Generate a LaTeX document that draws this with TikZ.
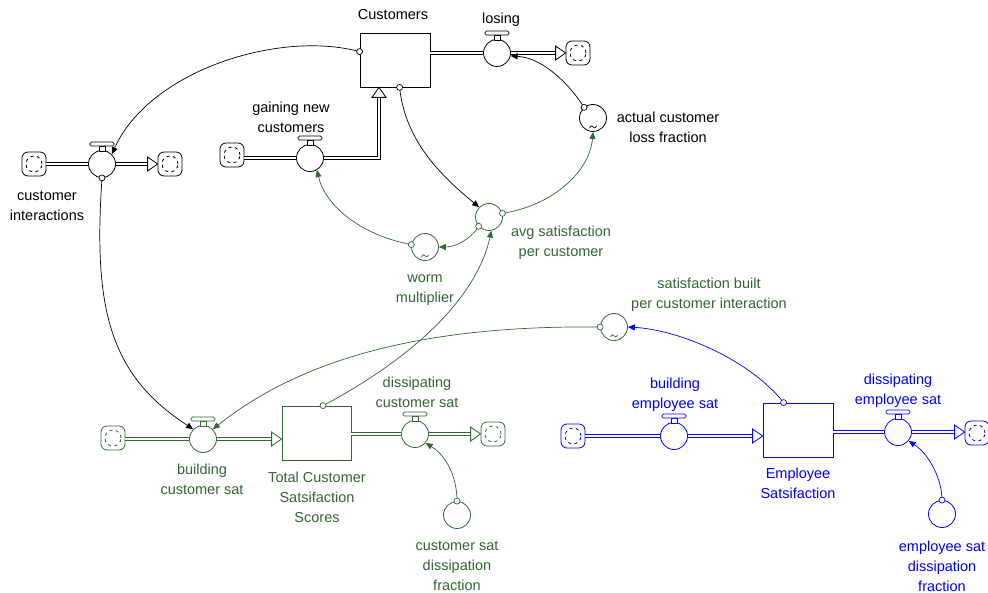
\documentclass[tikz,border=0pt]{standalone}
\usepackage{fontspec}
\setmainfont{Liberation Sans}
\usetikzlibrary{arrows.meta,calc}
\definecolor{vg}{RGB}{51,102,51}
\definecolor{vb}{RGB}{0,0,255}

% valve handle on top of a flow valve: #1 node, #2 colour
\newcommand\valvetop[2]{%
  \draw[#2,line width=0.8pt,fill=white] ($(#1.north)+(-3,1)$) rectangle ($(#1.north)+(3,-4)$);
  \draw[#2,line width=0.8pt,fill=white,rounded corners=1.5pt] ($(#1.north)+(-12,-4)$) rectangle ($(#1.north)+(12,-8)$);}
% dashed marks inside a cloud: #1 node, #2 colour
\newcommand\cloudmarks[2]{%
  \draw[#2,line width=0.8pt,dash pattern=on 3pt off 3.5pt] (#1) circle (8pt);}
% open arrowhead of a flow pipe pointing right, tip at #1
\newcommand\flowheadright[2]{%
  \draw[#2,line width=0.8pt,fill=white] (#1) -- ++(-10,-7) -- ++(0,14) -- cycle;}
% small circle at the tail of a connector
\newcommand\tailmark[2]{%
  \draw[#2,line width=0.7pt,fill=white] (#1) circle (3pt);}
% lookup tilde inside an auxiliary
\newcommand\lookupmark[2]{%
  \draw[#2,line width=0.7pt] ($(#1.south)+(-3.5,-4)$) .. controls ($(#1.south)+(-2,-7)$) and ($(#1.south)+(-1,-6)$) .. ($(#1.south)+(0,-5)$)
     .. controls ($(#1.south)+(1,-4)$) and ($(#1.south)+(2,-3)$) .. ($(#1.south)+(3.5,-6)$);}

\begin{document}
\begin{tikzpicture}[x=1pt,y=-1pt,
  aux/.style={circle,draw,fill=white,minimum size=27pt,inner sep=0pt,line width=0.8pt},
  stockbox/.style={rectangle,draw,fill=white,minimum width=70pt,minimum height=54pt,inner sep=0pt,line width=0.8pt},
  cloudbox/.style={rectangle,draw,fill=white,rounded corners=6pt,minimum size=24pt,inner sep=0pt,line width=0.8pt},
  pipe/.style={double=white,double distance=2pt,line width=0.8pt},
  conn/.style={line width=0.7pt,-{Triangle[length=7pt,width=6pt]}},
  lbl/.style={align=center,font=\fontsize{14.5}{20}\selectfont,inner sep=0pt},
  gcol/.style={draw=vg,text=vg},
  bcol/.style={draw=vb,text=vb},
]
\useasboundingbox (0,0) rectangle (988,593);
\fill[white] (0,0) rectangle (988,593);

% ---------------- customers sector ----------------
\node[stockbox] (C) at (395,60) {};
\node[lbl] (Clbl) at (393,15) {Customers};
\node[aux] (L) at (497,53) {};
\node[lbl] (Llbl) at (501,20) {losing};
\node[cloudbox] (Lsink) at (578,53) {};
\cloudmarks{Lsink}{black}
\draw[pipe] (C.east |- L) -- (L.west);
\draw[pipe] (L.east) -- ($(Lsink.west)+(-10,0)$);
\flowheadright{Lsink.west}{black}
\valvetop{L}{black}

\node[cloudbox] (CIsrc) at (34,164) {};
\cloudmarks{CIsrc}{black}
\node[aux] (CI) at (102,164) {};
\node[cloudbox] (CIsink) at (170,164) {};
\cloudmarks{CIsink}{black}
\node[lbl] (CIlbl) at (47,206) {customer\\interactions};
\draw[pipe] (CIsrc.east) -- (CI.west);
\draw[pipe] (CI.east) -- ($(CIsink.west)+(-10,0)$);
\flowheadright{CIsink.west}{black}
\valvetop{CI}{black}

\node[cloudbox] (Gsrc) at (232,155) {};
\cloudmarks{Gsrc}{black}
\node[aux] (G) at (310,158) {};
\node[lbl] (Glbl) at (291,117) {gaining new\\customers};
\coordinate (Gbend) at (379,158);
\coordinate (Gtip) at (Gbend |- C.south);
\draw[pipe] (Gsrc.east |- G) -- (G.west);
\draw[pipe] (G.east) -- (Gbend) -- ($(Gtip)+(0,10)$);
\draw[line width=0.8pt,fill=white] (Gtip) -- ++(-7,10) -- ++(14,0) -- cycle;
\valvetop{G}{black}

\node[aux] (A) at (593,118) {};
\lookupmark{A}{black}
\node[lbl] (Albl) at (668,127) {actual customer\\loss fraction};

\node[aux,gcol] (AV) at (489,217) {};
\node[lbl,vg] (AVlbl) at (561,243) {avg satisfaction\\per customer};
\node[aux,gcol] (W) at (425,247) {};
\lookupmark{W}{vg}
\node[lbl,vg] (Wlbl) at (425,290) {worm\\multiplier};
\node[aux,gcol] (SB) at (614,327) {};
\lookupmark{SB}{vg}
\node[lbl,vg] (SBlbl) at (709,295) {satisfaction built\\per customer interaction};

% ---------------- customer satisfaction sector ----------------
\node[cloudbox,gcol] (Bsrc) at (113,438) {};
\cloudmarks{Bsrc}{vg}
\node[aux,gcol] (B) at (203,439) {};
\node[lbl,vg] (Blbl) at (202,479) {building\\customer sat};
\node[stockbox,gcol,minimum width=69pt] (T) at (316.5,433) {};
\node[lbl,vg] (Tlbl) at (317,497) {Total Customer\\Satsifaction\\Scores};
\draw[pipe,vg] (Bsrc.east |- B) -- (B.west);
\draw[pipe,vg] (B.east) -- ($(T.west |- B)+(-10,0)$);
\flowheadright{T.west |- B}{vg}
\valvetop{B}{vg}

\node[aux,gcol] (DC) at (415,434) {};
\node[lbl,vg] (DClbl) at (417,392) {dissipating\\customer sat};
\node[cloudbox,gcol] (DCsink) at (493,434) {};
\cloudmarks{DCsink}{vg}
\draw[pipe,vg] (T.east |- DC) -- (DC.west);
\draw[pipe,vg] (DC.east) -- ($(DCsink.west)+(-10,0)$);
\flowheadright{DCsink.west}{vg}
\valvetop{DC}{vg}

\node[aux,gcol] (DF) at (457,515) {};
\node[lbl,vg] (DFlbl) at (457,566) {customer sat\\dissipation\\fraction};

% ---------------- employee satisfaction sector ----------------
\node[cloudbox,bcol] (BEsrc) at (573,436) {};
\cloudmarks{BEsrc}{vb}
\node[aux,bcol] (BE) at (674,436) {};
\node[lbl,vb] (BElbl) at (675,395) {building\\employee sat};
\node[stockbox,bcol] (ES) at (798,430) {};
\node[lbl,vb] (ESlbl) at (798,483) {Employee\\Satsifaction};
\draw[pipe,vb] (BEsrc.east) -- (BE.west);
\draw[pipe,vb] (BE.east) -- ($(ES.west |- BE)+(-10,0)$);
\flowheadright{ES.west |- BE}{vb}
\valvetop{BE}{vb}

\node[aux,bcol] (DE) at (898,432) {};
\node[lbl,vb] (DElbl) at (898,391) {dissipating\\employee sat};
\node[cloudbox,bcol] (DEsink) at (977,433) {};
\cloudmarks{DEsink}{vb}
\draw[pipe,vb] (ES.east |- DE) -- (DE.west);
\draw[pipe,vb] (DE.east) -- ($(DEsink.west |- DE)+(-10,0)$);
\flowheadright{DEsink.west |- DE}{vb}
\valvetop{DE}{vb}

\node[aux,bcol] (EF) at (942,514) {};
\node[lbl,vb] (EFlbl) at (942,566) {employee sat\\dissipation\\fraction};

% ---------------- connectors ----------------
\coordinate (mA) at (A.130);
\draw[conn] (mA) .. controls (572,88) and (545,58) .. (L.-12);
\coordinate (mC1) at ($(C.north west)+(0,19)$);
\draw[conn] (mC1) .. controls (280,30) and (150,70) .. (CI.45);
\coordinate (mC2) at ($(C.south west)+(40,0)$);
\draw[conn] (mC2) .. controls (405,140) and (440,175) .. (AV.135);
\coordinate (mCI) at (CI.south);
\draw[conn] (mCI) .. controls (93,310) and (110,375) .. (B.135);

\coordinate (mAV1) at (AV.222);
\draw[conn,vg] (mAV1) .. controls (470,240) and (455,247) .. (W.east);
\coordinate (mW) at (W.170);
\draw[conn,vg] (mW) .. controls (360,235) and (325,205) .. (G.-60);
\coordinate (mAV2) at (AV.15);
\draw[conn,vg] (mAV2) .. controls (555,205) and (590,170) .. (A.south);
\coordinate (mT) at ($(T.north)+(6.5,0)$);
\draw[conn,vg] (mT) .. controls (400,365) and (475,305) .. (AV.-80);
\coordinate (mSB) at (SB.west);
\draw[conn,vg] (mSB) .. controls (420,325) and (300,360) .. (B.45);
\coordinate (mDF) at (DF.north);
\draw[conn,vg] (mDF) .. controls (457,475) and (445,455) .. (DC.-40);

\coordinate (mES) at ($(ES.north west)+(21,0)$);
\draw[conn,vb] (mES) .. controls (750,360) and (680,330) .. (SB.east);
\coordinate (mEF) at (EF.north);
\draw[conn,vb] (mEF) .. controls (942,480) and (930,455) .. (DE.-40);

% connector tails
\tailmark{mA}{black}
\tailmark{mC1}{black}
\tailmark{mC2}{black}
\tailmark{mCI}{black}
\tailmark{mAV1}{vg}
\tailmark{mW}{vg}
\tailmark{mAV2}{vg}
\tailmark{mT}{vg}
\tailmark{mSB}{vg}
\tailmark{mDF}{vg}
\tailmark{mES}{vb}
\tailmark{mEF}{vb}
\end{tikzpicture}
\end{document}
